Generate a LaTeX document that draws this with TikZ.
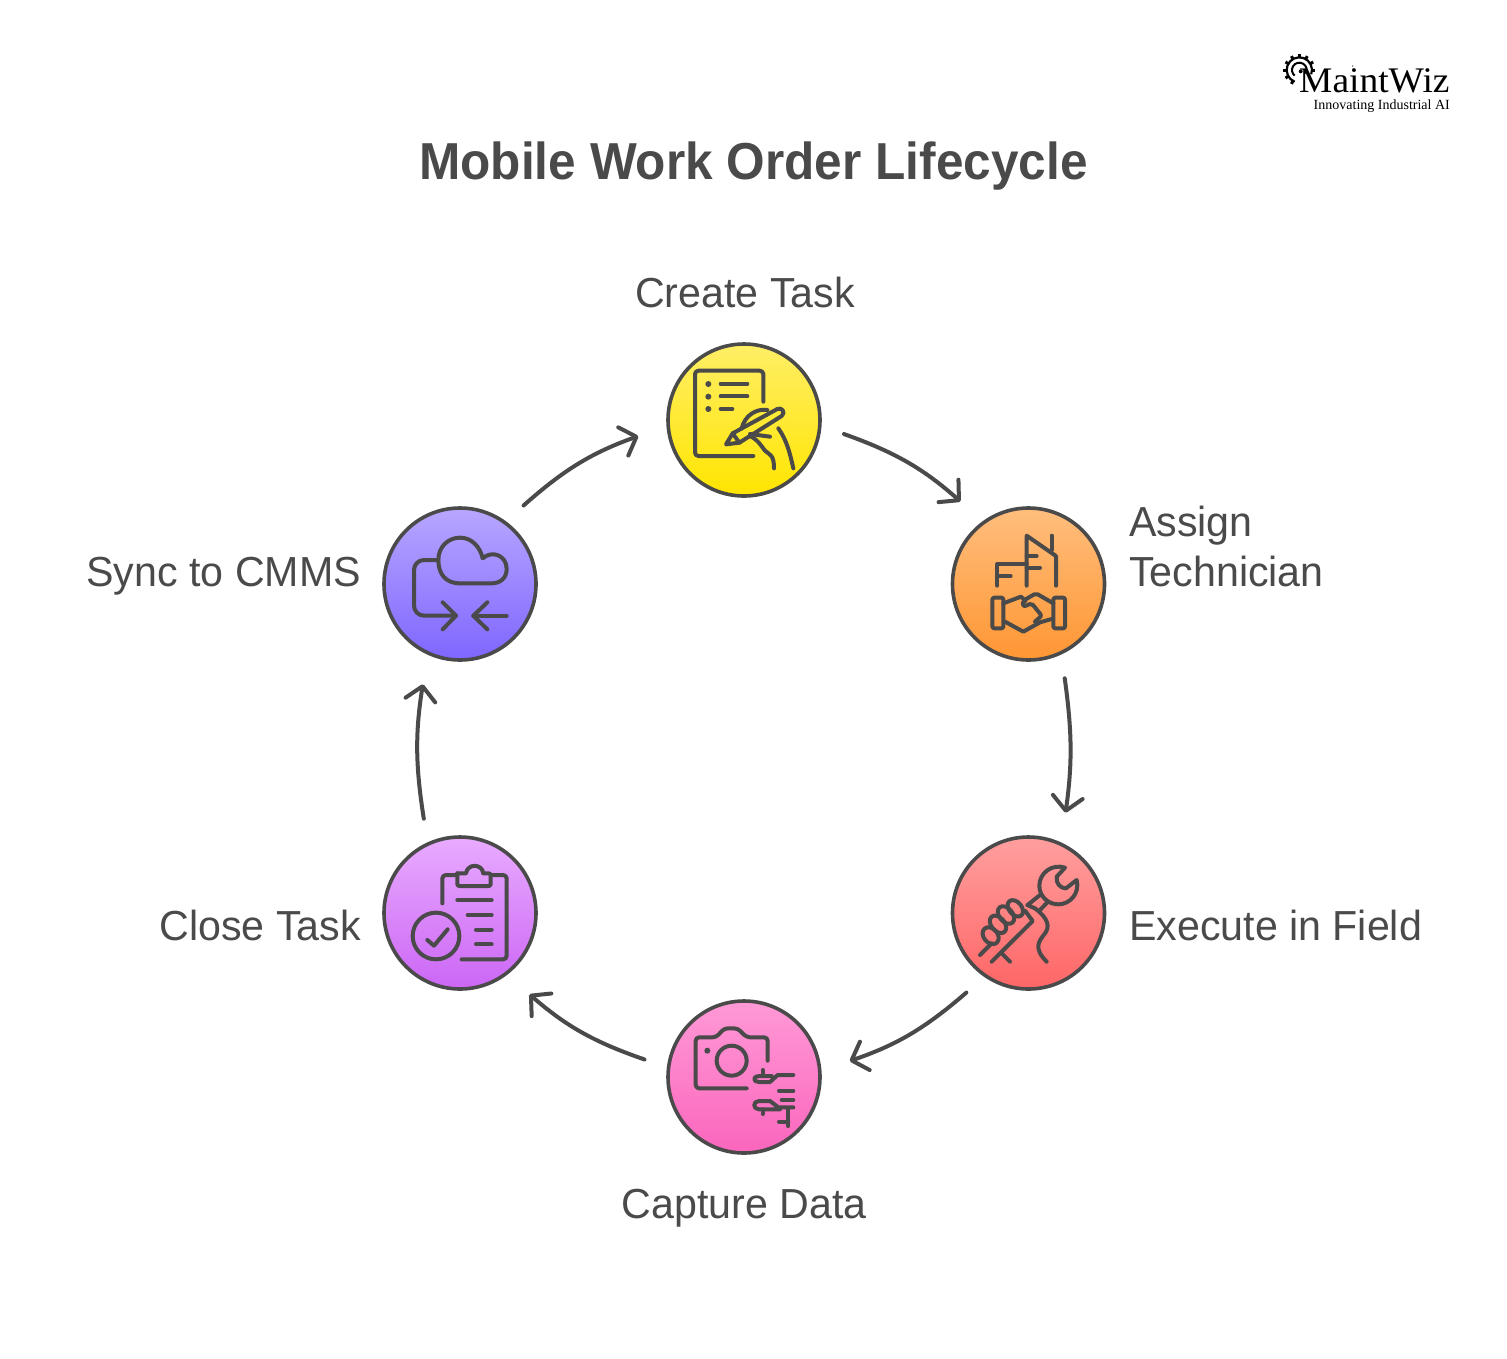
\documentclass[tikz,border=0pt]{standalone}
\usepackage{fontspec}
\usetikzlibrary{arrows.meta}
\setmainfont{Liberation Sans}
\newfontfamily\titlefont[FakeStretch=0.953]{Liberation Sans Bold}
\newfontfamily\labelfont[FakeStretch=0.98]{Liberation Sans}
\newfontfamily\logofont{Liberation Serif}
\definecolor{ink}{HTML}{4A4A4A}
\tikzset{
  stage/.style={circle,draw=ink,line width=3.6pt,minimum size=152pt,inner sep=0pt,outer sep=25pt,shading angle=0},
  conn/.style={draw=ink,line width=4pt,line cap=round,shorten >=6pt,
     -{Straight Barb[length=14pt,width=30pt,round]}},
  icon/.style={draw=ink,line width=4pt,line cap=round,line join=round},
  dotmark/.style={fill=ink,draw=none},
  lab/.style={font=\labelfont\fontsize{42}{50}\selectfont,text=ink,inner sep=0pt},
}
\begin{document}
\begin{tikzpicture}[x=1pt,y=-1pt]
\useasboundingbox (0,0) rectangle (1507,1358);
% stages
\node[stage,top color={rgb,255:red,255;green,238;blue,102},bottom color={rgb,255:red,255;green,229;blue,0}] (create) at (744,420) {};
\node[stage,top color={rgb,255:red,255;green,190;blue,125},bottom color={rgb,255:red,255;green,150;blue,51}] (assign) at (1028.5,584) {};
\node[stage,top color={rgb,255:red,255;green,159;blue,159},bottom color={rgb,255:red,255;green,102;blue,102}] (exec) at (1028.5,913) {};
\node[stage,top color={rgb,255:red,255;green,153;blue,214},bottom color={rgb,255:red,251;green,102;blue,189}] (capture) at (744,1077) {};
\node[stage,top color={rgb,255:red,232;green,171;blue,255},bottom color={rgb,255:red,204;green,102;blue,245}] (close) at (460,913) {};
\node[stage,top color={rgb,255:red,184;green,166;blue,255},bottom color={rgb,255:red,127;green,102;blue,255}] (sync) at (460,584) {};
% connectors
\draw[conn] (create.-8.6) to[bend left=11] (assign.129.7);
\draw[conn] (assign.-69) to[bend left=8] (exec.69);
\draw[conn] (exec.-128.1) to[bend left=11] (capture.8);
\draw[conn] (capture.170.8) to[bend left=11] (close.-50.3);
\draw[conn] (close.111.5) to[bend left=9] (sync.-111);
\draw[conn] (sync.51.4) to[bend left=11] (create.-172.5);
% title
\node[font=\titlefont\fontsize{52}{60}\selectfont,text=ink,anchor=base,inner sep=0pt] (title) at (753.5,179) {Mobile Work Order Lifecycle};
% labels
\node[lab,anchor=base] (lcreate) at (745,307) {Create Task};
\node[lab,anchor=base west,align=left] (lassign) at (1129,586) {Assign\\Technician};
\node[lab,anchor=base west] (lexec) at (1129,940) {Execute in Field};
\node[lab,anchor=base] (lcapture) at (744,1218) {Capture Data};
\node[lab,anchor=base east] (lclose) at (361,940) {Close Task};
\node[lab,anchor=base east] (lsync) at (361,586) {Sync to CMMS};
% icon: create
\begin{scope}[shift={(650,330)},scale=1/3]
\draw[icon,rounded corners=3.5pt] (340,215)--(340,122)--(135,122)--(135,378)--(310,378);
\foreach \yy in {162,200,237} \fill[dotmark] (175,\yy) circle[radius=9];
\draw[icon] (212,161)--(292,161) (212,199)--(292,199) (212,237)--(247,237);
\draw[icon] (228,343)--(248,310)--(382,237) .. controls (395,230) and (408,248) .. (395,258)--(268,338)--cycle;
\draw[icon] (248,310)--(268,338);
\draw[icon] (275,295) .. controls (285,255) and (320,235) .. (352,240);
\draw[icon] (300,312)--(360,320);
\draw[icon] (300,318) .. controls (325,330) and (335,350) .. (345,362) .. controls (360,375) and (372,375) .. (372,415);
\draw[icon] (385,295) .. controls (410,330) and (420,370) .. (430,415);
\end{scope}
% icon: assign
\begin{scope}[shift={(940,495)},scale=1/3]
\draw[icon] (172,272)--(172,207)--(260,207);
\draw[icon] (172,243)--(212,243);
\draw[icon] (260,272)--(260,122)--(348,183)--(348,272);
\draw[icon] (335,122)--(335,165);
\draw[icon] (260,183)--(290,183) (260,218)--(300,218);
\draw[icon,rounded corners=2pt] (157,308) rectangle (190,400);
\draw[icon,rounded corners=2pt] (340,308) rectangle (375,400);
\draw[icon] (190,325)--(243,305)--(256,318);
\draw[icon] (195,380)--(250,410)--(300,382)--(335,372);
\draw[icon,rounded corners=2pt] (340,325)--(288,295)--(248,318)--(250,335)--(275,325)--(305,362)--(285,380);
\end{scope}
% icon: execute
\begin{scope}[shift={(940,825)},scale=1/3]
\draw[icon] (375,128) .. controls (335,115) and (298,145) .. (298,182) .. controls (298,215) and (325,238) .. (355,238) .. controls (390,238) and (420,205) .. (410,165)--(378,190) .. controls (360,190) and (348,175) .. (350,155)--cycle;
\draw[icon] (300,210)--(265,238) (322,232)--(297,258);
\draw[icon,rotate around={-50:(226,250)}] (226,250) ellipse[x radius=28,y radius=19];
\draw[icon,rotate around={-50:(198,270)}] (198,270) ellipse[x radius=30,y radius=20];
\draw[icon,rotate around={-50:(174,298)}] (174,298) ellipse[x radius=30,y radius=20];
\draw[icon,rotate around={-50:(152,332)}] (152,332) ellipse[x radius=28,y radius=21];
\draw[icon] (262,240)--(285,250) .. controls (325,280) and (330,305) .. (315,325) .. controls (295,350) and (280,370) .. (320,410);
\draw[icon] (120,390)--(155,355);
\draw[icon] (155,410)--(278,288)--(256,258);
\draw[icon] (185,385)--(210,410);
\end{scope}
% icon: capture
\begin{scope}[shift={(655,990)},scale=1/3]
\draw[icon,rounded corners=3.5pt] (338,212)--(338,142)--(275,142)--(248,115)--(208,115)--(183,142)--(122,142)--(122,295)--(275,295);
\draw[icon] (230,212) circle[radius=45];
\fill[dotmark] (157,182) circle[radius=9];
\draw[icon] (415,255)--(368,255)--(345,276)--(312,276) .. controls (293,276) and (293,258) .. (312,258)--(350,258);
\draw[icon] (323,240)--(323,256);
\draw[icon] (372,302)--(415,302) (380,330)--(415,330);
\draw[icon] (415,352)--(370,352)--(345,333)--(312,333) .. controls (293,333) and (293,358) .. (312,358)--(375,358);
\draw[icon] (323,358)--(323,372);
\draw[icon] (400,355)--(400,408) (372,395)--(400,395);
\end{scope}
% icon: close
\begin{scope}[shift={(370,825)},scale=1/3]
\draw[icon,rounded corners=3.5pt] (217,235)--(217,150)--(262,150);
\draw[icon,rounded corners=3.5pt] (362,150)--(410,150)--(410,403)--(275,403);
\draw[icon,rounded corners=2pt] (262,145)--(262,183)--(362,183)--(362,145)--(340,145);
\draw[icon] (262,145)--(288,145) .. controls (292,115) and (336,115) .. (340,145);
\draw[icon] (262,226)--(365,226) (293,270)--(365,270) (318,314)--(365,314) (318,358)--(365,358);
\draw[icon] (198,333) circle[radius=70];
\draw[icon] (172,345)--(192,362)--(233,313);
\end{scope}
% icon: sync
\begin{scope}[shift={(370,495)},scale=1/3]
\draw[icon] (270,265) .. controls (225,265) and (205,235) .. (205,195) .. controls (205,155) and (235,128) .. (270,128) .. controls (305,128) and (330,155) .. (338,190) .. controls (365,165) and (410,180) .. (410,222) .. controls (410,250) and (390,265) .. (365,265)--cycle;
\draw[icon,rounded corners=10pt] (205,195)--(132,195)--(132,362)--(258,362);
\draw[icon] (218,322)--(258,362)--(218,403);
\draw[icon] (410,362)--(310,362);
\draw[icon] (352,322)--(310,362)--(352,403);
\end{scope}
% logo
\begin{scope}[shift={(1270,40)},scale=1/3]
\draw[black,line width=2.2pt] (88,90)+(20:38) arc[start angle=20,end angle=-248,radius=38];
\foreach \a in {-240,-210,-180,-150,-120,-90,-60,-30,0}
  \draw[black,line width=3pt] (88,90)+(\a:38)--+(\a:48);
\draw[black,line width=2pt] (88,90)+(30:22) arc[start angle=30,end angle=-230,radius=22];
\fill[black] (92,94) circle[radius=6];
\fill[black] (248,78) circle[radius=2];
\end{scope}
\node[font=\logofont\fontsize{36}{38}\selectfont,text=black,anchor=base west,inner sep=0pt,xscale=1.04] (logo) at (1299,92) {MaintWiz};
\node[font=\logofont\fontsize{14}{15}\selectfont,text=black,anchor=base east,inner sep=0pt] (tag) at (1450,109.5) {Innovating Industrial AI};
\end{tikzpicture}
\end{document}
